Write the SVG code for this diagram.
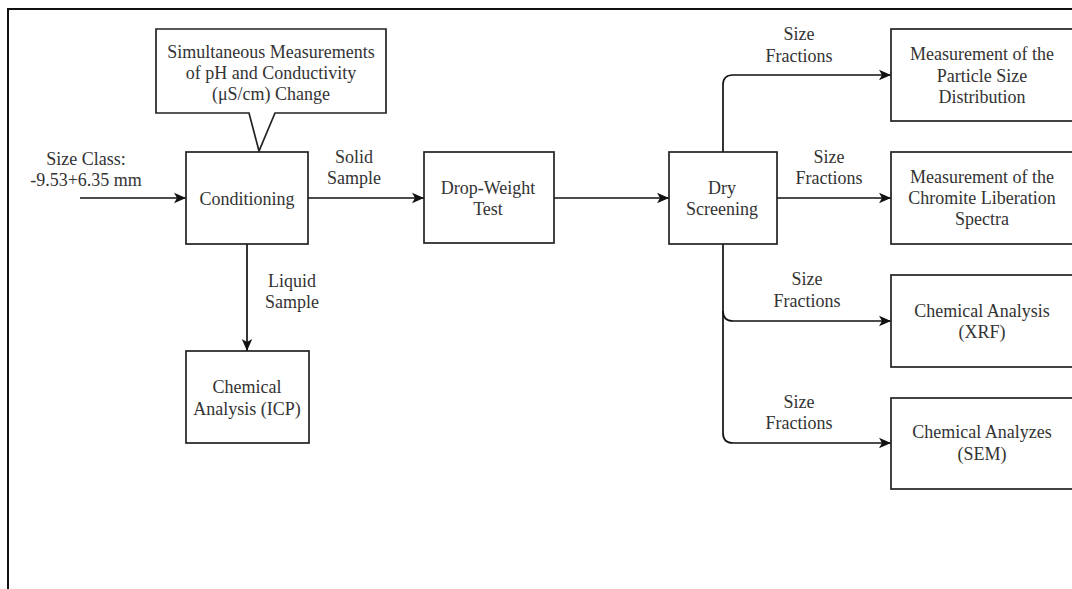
<svg xmlns="http://www.w3.org/2000/svg" width="1072" height="589" viewBox="0 0 1072 589">
<style>
.box{fill:#fff;stroke:#222;stroke-width:1.7}
.ln{fill:none;stroke:#111;stroke-width:1.7}
text{font-family:"Liberation Serif","Times New Roman",serif;font-size:18px;fill:#333;text-anchor:middle}
</style>
<defs>
<marker id="ah" viewBox="0 0 12 12" refX="12" refY="6" markerWidth="12" markerHeight="12" markerUnits="userSpaceOnUse" orient="auto">
<path d="M0,0.8 L12,6 L0,11.2 L3,6 Z" fill="#111"/>
</marker>
</defs>
<rect width="1072" height="589" fill="#fff"/>
<path d="M8,589 V9 H1072" fill="none" stroke="#111" stroke-width="2"/>
<g id="connectors">
<path class="ln" d="M80,198 H186" marker-end="url(#ah)"/>
<path class="ln" d="M308,198 H424" marker-end="url(#ah)"/>
<path class="ln" d="M554,198 H669" marker-end="url(#ah)"/>
<path class="ln" d="M247,244 V351" marker-end="url(#ah)"/>
<path class="ln" d="M723,152 V85 Q723,75 733,75 H891" marker-end="url(#ah)"/>
<path class="ln" d="M777,198 H891" marker-end="url(#ah)"/>
<path class="ln" d="M723,244 V311 Q723,321 733,321 H891" marker-end="url(#ah)"/>
<path class="ln" d="M723,311 V433 Q723,443 733,443 H891" marker-end="url(#ah)"/>
<text x="354" y="163">Solid</text>
<text x="354" y="184">Sample</text>
<text x="292" y="287">Liquid</text>
<text x="292" y="308">Sample</text>
<text x="799" y="40">Size</text>
<text x="799" y="62">Fractions</text>
<text x="829" y="163">Size</text>
<text x="829" y="184">Fractions</text>
<text x="807" y="285">Size</text>
<text x="807" y="307">Fractions</text>
<text x="799" y="408">Size</text>
<text x="799" y="429">Fractions</text>
</g>
<g id="input">
<text x="86" y="165">Size Class:</text>
<text x="86" y="186">-9.53+6.35 mm</text>
</g>
<g id="callout">
<path class="box" d="M156,29 H386 V113 H275 L259,151 L249,113 H156 Z"/>
<text x="271" y="58">Simultaneous Measurements</text>
<text x="271" y="79">of pH and Conductivity</text>
<text x="271" y="100">(μS/cm) Change</text>
</g>
<g id="conditioning">
<rect class="box" x="186" y="152" width="122" height="92"/>
<text x="247" y="205">Conditioning</text>
</g>
<g id="icp">
<rect class="box" x="186" y="351" width="123" height="92"/>
<text x="247" y="393">Chemical</text>
<text x="247" y="415">Analysis (ICP)</text>
</g>
<g id="dropweight">
<rect class="box" x="424" y="152" width="130" height="91"/>
<text x="488" y="194">Drop-Weight</text>
<text x="488" y="215">Test</text>
</g>
<g id="dryscreening">
<rect class="box" x="669" y="152" width="108" height="92"/>
<text x="722" y="194">Dry</text>
<text x="722" y="215">Screening</text>
</g>
<g id="psd">
<rect class="box" x="891" y="29" width="200" height="92"/>
<text x="982" y="60">Measurement of the</text>
<text x="982" y="82">Particle Size</text>
<text x="982" y="103">Distribution</text>
</g>
<g id="liberation">
<rect class="box" x="891" y="152" width="200" height="92"/>
<text x="982" y="183">Measurement of the</text>
<text x="982" y="204">Chromite Liberation</text>
<text x="982" y="225">Spectra</text>
</g>
<g id="xrf">
<rect class="box" x="891" y="275" width="200" height="92"/>
<text x="982" y="317">Chemical Analysis</text>
<text x="982" y="338">(XRF)</text>
</g>
<g id="sem">
<rect class="box" x="891" y="398" width="200" height="91"/>
<text x="982" y="438">Chemical Analyzes</text>
<text x="982" y="460">(SEM)</text>
</g>
</svg>
